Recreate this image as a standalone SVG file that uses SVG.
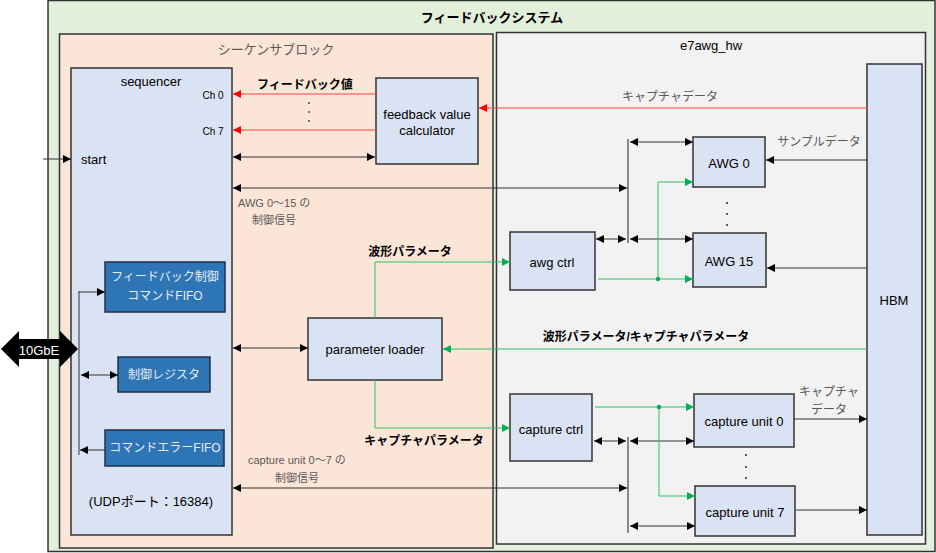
<svg xmlns="http://www.w3.org/2000/svg" width="936" height="553" viewBox="0 0 936 553">
<defs>
<marker id="ak" viewBox="0 0 10 10" refX="10" refY="5" markerWidth="8" markerHeight="8" markerUnits="userSpaceOnUse" orient="auto-start-reverse"><path d="M0,0 L10,5 L0,10 z" fill="#000"/></marker>
<marker id="ar" viewBox="0 0 10 10" refX="10" refY="5" markerWidth="8" markerHeight="8" markerUnits="userSpaceOnUse" orient="auto-start-reverse"><path d="M0,0 L10,5 L0,10 z" fill="#ff0000"/></marker>
<marker id="ag" viewBox="0 0 10 10" refX="10" refY="5" markerWidth="8" markerHeight="8" markerUnits="userSpaceOnUse" orient="auto-start-reverse"><path d="M0,0 L10,5 L0,10 z" fill="#00b050"/></marker>
</defs>
<style>
text{font-family:"Liberation Sans","Noto Sans CJK JP",sans-serif;font-size:12px;fill:#000;text-anchor:middle;dominant-baseline:central}
.g{fill:#595959}
.b{font-weight:bold}
.w{fill:#e6ecf5}
.n{font-size:13px}
.box{fill:#dae3f3;stroke:#333;stroke-width:1.5}
.dk{fill:#2e75b6;stroke:#1f2f4f;stroke-width:1.5}
.k{stroke:#333;stroke-width:1;fill:none}
.r{stroke:#ff4040;stroke-width:1;fill:none}
.gr{stroke:#2fbf66;stroke-width:1;fill:none}
</style>
<rect x="48" y="0.5" width="887" height="551" fill="#e2efda" stroke="#333" stroke-width="1.5"/>
<text x="492" y="17" class="b" style="font-size:13px">フィードバックシステム</text>
<rect x="59.5" y="34" width="433.5" height="514" fill="#fbe5d6" stroke="#333" stroke-width="1.5"/>
<text x="276" y="49" class="g" style="font-size:13px">シーケンサブロック</text>
<rect x="496.5" y="32.5" width="429" height="511.5" fill="#f2f2f2" stroke="#333" stroke-width="1.5"/>
<text x="711" y="45" style="font-size:13px">e7awg_hw</text>

<g id="sequencer">
<rect class="box" x="71" y="68" width="161" height="467"/>
<text x="151" y="81" class="n">sequencer</text>
<text x="213" y="95" style="font-size:10px">Ch 0</text>
<text x="213" y="131" style="font-size:10px">Ch 7</text>
<text x="81" y="159" class="n" style="text-anchor:start">start</text>
<text x="151" y="501" class="n">(UDPポート：16384)</text>
</g>
<g id="fifo1">
<rect class="dk" x="105" y="262" width="120" height="50"/>
<text x="165" y="277" class="w">フィードバック制御</text>
<text x="165" y="296" class="w">コマンドFIFO</text>
</g>
<g id="register">
<rect class="dk" x="118" y="357" width="92" height="35"/>
<text x="164" y="375" class="w">制御レジスタ</text>
</g>
<g id="fifo2">
<rect class="dk" x="105" y="430" width="119" height="36"/>
<text x="165" y="448" class="w">コマンドエラーFIFO</text>
</g>
<g id="fbcalc">
<rect class="box" x="376" y="78" width="102" height="86"/>
<text x="427" y="114" class="n">feedback value</text>
<text x="427" y="130" class="n">calculator</text>
</g>
<g id="paramloader">
<rect class="box" x="308" y="318" width="134" height="62"/>
<text x="375" y="349" class="n">parameter loader</text>
</g>
<g id="awgctrl">
<rect class="box" x="510" y="232" width="85" height="58"/>
<text x="552" y="262" class="n">awg ctrl</text>
</g>
<g id="capctrl">
<rect class="box" x="510" y="394" width="82" height="67"/>
<text x="551" y="429" class="n">capture ctrl</text>
</g>
<g id="awg0">
<rect class="box" x="693" y="137" width="72" height="50"/>
<text x="729" y="163" class="n">AWG 0</text>
</g>
<g id="awg15">
<rect class="box" x="693" y="233" width="73" height="54"/>
<text x="729" y="261" class="n">AWG 15</text>
</g>
<g id="cap0">
<rect class="box" x="694" y="394" width="100" height="53"/>
<text x="744" y="421" class="n">capture unit 0</text>
</g>
<g id="cap7">
<rect class="box" x="695" y="486" width="100" height="50"/>
<text x="745" y="512" class="n">capture unit 7</text>
</g>
<g id="hbm">
<rect class="box" x="867" y="64" width="55" height="471"/>
<text x="894" y="300" class="n">HBM</text>
</g>
<g id="gbe">
<path d="M1,349 L19,331 L19,339 L60,339 L60,331 L78,349 L60,367 L60,359 L19,359 L19,367 z" fill="#000"/>
<text x="39" y="350" style="fill:#fff;font-size:13px">10GbE</text>
</g>

<g id="connectors">
<line class="r" x1="375" y1="94" x2="233" y2="94" marker-end="url(#ar)"/>
<line class="r" x1="375" y1="130" x2="233" y2="130" marker-end="url(#ar)"/>
<line class="r" x1="868" y1="108" x2="479" y2="108" marker-end="url(#ar)"/>
<line class="k" x1="233" y1="157" x2="375" y2="157" marker-start="url(#ak)" marker-end="url(#ak)"/>
<line class="k" x1="43" y1="159" x2="71" y2="159" marker-end="url(#ak)"/>
<line class="k" x1="233" y1="188" x2="627" y2="188" marker-start="url(#ak)" marker-end="url(#ak)"/>
<line class="k" x1="628" y1="139" x2="628" y2="243" style="stroke:#666;stroke-width:1.5"/>
<line class="k" x1="630" y1="142" x2="693" y2="142" marker-start="url(#ak)" marker-end="url(#ak)"/>
<line class="k" x1="630" y1="239" x2="693" y2="239" marker-start="url(#ak)" marker-end="url(#ak)"/>
<line class="k" x1="596" y1="239" x2="626" y2="239" marker-start="url(#ak)" marker-end="url(#ak)"/>
<line class="k" x1="867" y1="160" x2="766" y2="160" marker-end="url(#ak)"/>
<line class="k" x1="867" y1="268" x2="767" y2="268" marker-end="url(#ak)"/>
<polyline class="gr" points="598,279 693,279" marker-end="url(#ag)"/>
<polyline class="gr" points="658,279 658,182 693,182" marker-end="url(#ag)"/>
<circle cx="658" cy="279" r="2.2" fill="#00b050"/>
<polyline class="gr" points="375,318 375,262 510,262" marker-end="url(#ag)"/>
<polyline class="gr" points="375,380 375,428 510,428" marker-end="url(#ag)"/>
<line class="gr" x1="867" y1="349" x2="443" y2="349" marker-end="url(#ag)"/>
<line class="k" x1="233" y1="348" x2="308" y2="348" marker-start="url(#ak)" marker-end="url(#ak)"/>
<line class="k" x1="628" y1="437" x2="628" y2="533" style="stroke:#666;stroke-width:1.5"/>
<line class="k" x1="594" y1="441" x2="626" y2="441" marker-start="url(#ak)" marker-end="url(#ak)"/>
<line class="k" x1="630" y1="441" x2="694" y2="441" marker-start="url(#ak)" marker-end="url(#ak)"/>
<line class="k" x1="630" y1="526" x2="695" y2="526" marker-start="url(#ak)" marker-end="url(#ak)"/>
<line class="k" x1="233" y1="488" x2="627" y2="488" marker-start="url(#ak)" marker-end="url(#ak)"/>
<polyline class="gr" points="595,407 694,407" marker-end="url(#ag)"/>
<polyline class="gr" points="659,407 659,496 695,496" marker-end="url(#ag)"/>
<circle cx="659" cy="407" r="2.2" fill="#00b050"/>
<line class="k" x1="794" y1="419" x2="867" y2="419" marker-end="url(#ak)"/>
<line class="k" x1="796" y1="510" x2="867" y2="510" marker-end="url(#ak)"/>
<line class="k" x1="79" y1="291" x2="79" y2="455"/>
<line class="k" x1="79" y1="292" x2="105" y2="292" marker-end="url(#ak)"/>
<line class="k" x1="81" y1="375" x2="118" y2="375" marker-start="url(#ak)" marker-end="url(#ak)"/>
<line class="k" x1="105" y1="450" x2="80" y2="450" marker-end="url(#ak)"/>
</g>

<g fill="#333">
<circle cx="309" cy="103" r="0.9"/><circle cx="309" cy="112" r="0.9"/><circle cx="309" cy="121" r="0.9"/>
<circle cx="727" cy="203" r="1.1"/><circle cx="727" cy="214" r="1.1"/><circle cx="727" cy="225" r="1.1"/>
<circle cx="746" cy="455" r="1.1"/><circle cx="746" cy="467" r="1.1"/><circle cx="746" cy="478" r="1.1"/>
</g>

<text x="305" y="85" class="b">フィードバック値</text>
<text x="670" y="97" class="g">キャプチャデータ</text>
<text x="819" y="142" class="g">サンプルデータ</text>
<text x="238" y="203" class="g" style="text-anchor:start;font-size:11px">AWG 0～15 の</text>
<text x="252" y="220" class="g" style="text-anchor:start;font-size:11px">制御信号</text>
<text x="410" y="252" class="b">波形パラメータ</text>
<text x="646" y="337" class="b">波形パラメータ/キャプチャパラメータ</text>
<text x="424" y="441" class="b">キャプチャパラメータ</text>
<text x="829" y="392" class="g">キャプチャ</text>
<text x="829" y="410" class="g">データ</text>
<text x="248" y="460" class="g" style="text-anchor:start;font-size:11px">capture unit 0～7 の</text>
<text x="275" y="478" class="g" style="text-anchor:start;font-size:11px">制御信号</text>
</svg>
